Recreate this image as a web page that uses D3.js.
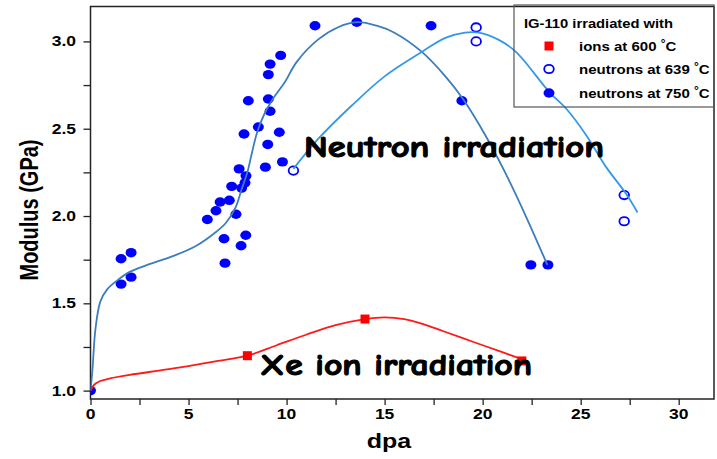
<!DOCTYPE html>
<html>
<head>
<meta charset="utf-8">
<script src="https://cdn.jsdelivr.net/npm/d3@7/dist/d3.min.js"></script>
<style>
  html, body { margin: 0; padding: 0; background: #fff; }
  svg { display: block; }
  text { font-family: Arial, "Liberation Sans", sans-serif; font-weight: bold; }
</style>
</head>
<body>
<svg id="chart" width="717" height="459"></svg>
<script>
// ---- data ----
const xTicks = [0, 5, 10, 15, 20, 25, 30];
const yTicks = [1.0, 1.5, 2.0, 2.5, 3.0];

const ionX = [0, 8, 14, 22];
const ionY = [1.0, 1.2, 1.41, 1.17];

const n639X = [10.35, 19.67, 19.67, 27.22, 27.22];
const n639Y = [2.26, 3.08, 3.00, 2.12, 1.97];

const n750X = [0, 1.56, 2.07, 1.56, 2.07, 5.96, 6.40, 6.61, 7.08, 6.81, 6.86, 7.42, 7.20, 7.71, 7.88, 7.93, 7.58, 7.92, 7.68, 7.83, 8.56, 8.05, 8.92, 9.04, 9.16, 9.07, 9.63, 9.79, 9.70, 9.16, 9.07, 11.45, 13.58, 17.37, 18.94, 22.46, 23.33];
const n750Y = [1.0, 1.755, 1.79, 1.61, 1.65, 1.98, 2.03, 2.08, 2.09, 1.87, 1.73, 2.01, 2.17, 2.16, 2.19, 2.23, 2.27, 1.89, 1.83, 2.47, 2.51, 2.66, 2.28, 2.41, 2.60, 2.67, 2.48, 2.31, 2.92, 2.87, 2.81, 3.09, 3.11, 3.09, 2.66, 1.72, 1.72];

// fitted curves
const ionFitX = [0, 0.2, 0.5, 1, 2, 3.5, 5, 6.5, 8, 9.5, 11, 12.5, 14, 15, 16, 17, 18, 19.5, 21, 22.25];
const ionFitY = [1.0, 1.035, 1.055, 1.07, 1.09, 1.115, 1.14, 1.17, 1.2, 1.26, 1.32, 1.375, 1.41, 1.42, 1.41, 1.38, 1.34, 1.28, 1.22, 1.17];

const n750FitX = [0, 0.1, 0.25, 0.5, 0.85, 1.35, 2.0, 2.9, 4.2, 5.4, 6.3, 6.9, 7.4, 7.7, 8.0, 8.25, 8.5, 8.85, 9.3, 9.93, 10.5, 11.6, 12.6, 13.6, 14.6, 15.5, 16.9, 18.1, 19.0, 20.1, 21.1, 22.2, 23.3];
const n750FitY = [1.0, 1.12, 1.35, 1.51, 1.58, 1.63, 1.68, 1.72, 1.77, 1.83, 1.90, 1.96, 2.05, 2.15, 2.25, 2.37, 2.48, 2.58, 2.67, 2.77, 2.88, 3.01, 3.08, 3.11, 3.09, 3.05, 2.94, 2.80, 2.67, 2.47, 2.26, 2.0, 1.72];

const n639FitX = [10.35, 11.6, 13.3, 15.0, 16.9, 18.1, 19.1, 19.8, 20.8, 21.7, 23.4, 24.3, 25.3, 26.3, 27.3, 27.9];
const n639FitY = [2.27, 2.44, 2.63, 2.80, 2.94, 3.02, 3.05, 3.05, 3.01, 2.94, 2.71, 2.61, 2.46, 2.28, 2.13, 2.02];

const legendTitle = "IG-110 irradiated with";
const legendLabels = ["ions at 600 ", "neutrons at 639 ", "neutrons at 750 "];
const annotations = ["Neutron irradiation", "Xe ion irradiation"];

// ---- layout ----
const svg = d3.select("#chart");
const L = 90.5, R = 714, T = 6.5, B = 399;
const x = d3.scaleLinear().domain([0, 31.8]).range([L, R]);
const y = d3.scaleLinear().domain([0.952, 3.2]).range([B, T]);
const SX = 1.25; // horizontal stretch of the reference text

function stretchedText(g, px, py, str, opts) {
  const t = g.append("text")
    .attr("transform", `translate(${px},${py}) scale(${opts.sx || SX},1)`)
    .attr("font-size", opts.size)
    .attr("text-anchor", opts.anchor || "start")
    .attr("fill", opts.fill || "#000");
  t.text(str);
  return t;
}

svg.append("defs").append("clipPath").attr("id", "clip")
  .append("rect").attr("x", L).attr("y", T).attr("width", R - L).attr("height", B - T);

// axes
const xAxis = d3.axisBottom(x).tickValues(d3.range(0, 31, 2.5)).tickSize(6).tickFormat("");
const yAxis = d3.axisLeft(y).tickValues(d3.range(1.0, 3.2, 0.25)).tickSize(7).tickFormat("");
const gx = svg.append("g").attr("transform", `translate(0,${B})`).call(xAxis);
const gy = svg.append("g").attr("transform", `translate(${L},0)`).call(yAxis);
[gx, gy].forEach(g => {
  g.select(".domain").remove();
  g.selectAll("line").attr("stroke", "#222").attr("stroke-width", 1.3);
});

// frame
svg.append("rect").attr("x", L).attr("y", T).attr("width", R - L).attr("height", B - T)
  .attr("fill", "none").attr("stroke", "#222").attr("stroke-width", 1.5);

// tick labels
const tl = svg.append("g");
xTicks.forEach(v => stretchedText(tl, x(v), 419, String(v), {size: 14, anchor: "middle"}));
yTicks.forEach(v => stretchedText(tl, 76, y(v) + 5, v.toFixed(1), {size: 14, anchor: "end"}));

// axis titles
stretchedText(svg, 389, 448, "dpa", {size: 20, anchor: "middle"});
svg.append("text")
  .attr("transform", `translate(38,${210}) rotate(-90) scale(1,${SX})`)
  .attr("font-size", 20).attr("text-anchor", "middle").text("Modulus (GPa)");

// plot
const plot = svg.append("g").attr("clip-path", "url(#clip)");

// filled 750 °C points
plot.selectAll("ellipse.n750").data(n750X.map((v, i) => [v, n750Y[i]])).join("ellipse")
  .attr("class", "n750").attr("cx", d => x(d[0])).attr("cy", d => y(d[1]))
  .attr("rx", 5.5).attr("ry", 4.7).attr("fill", "#0000ff");

// open 639 °C points
plot.selectAll("ellipse.n639").data(n639X.map((v, i) => [v, n639Y[i]])).join("ellipse")
  .attr("class", "n639").attr("cx", d => x(d[0])).attr("cy", d => y(d[1]))
  .attr("rx", 4.8).attr("ry", 4.2).attr("fill", "none").attr("stroke", "#0000ff").attr("stroke-width", 1.8);

// fit lines
const lineY = d3.line().x(d => x(d[0])).y(d => y(d[1])).curve(d3.curveCatmullRom.alpha(0.5));
plot.append("path").datum(n750FitX.map((v, i) => [v, n750FitY[i]]))
  .attr("d", lineY).attr("fill", "none").attr("stroke", "#3b7dbd").attr("stroke-width", 1.8);
plot.append("path").datum(n639FitX.map((v, i) => [v, n639FitY[i]]))
  .attr("d", lineY).attr("fill", "none").attr("stroke", "#3399e8").attr("stroke-width", 1.8);
plot.append("path").datum(ionFitX.map((v, i) => [v, ionFitY[i]]))
  .attr("d", lineY).attr("fill", "none").attr("stroke", "#ff1a1a").attr("stroke-width", 1.8);

// ion squares
plot.selectAll("rect.ion").data(ionX.map((v, i) => [v, ionY[i]]).slice(1)).join("rect")
  .attr("class", "ion").attr("x", d => x(d[0]) - 4.5).attr("y", d => y(d[1]) - 4.5)
  .attr("width", 9).attr("height", 9).attr("fill", "#ff0000");

// annotations
const comic = "'Comic Sans MS', 'Comic Neue', 'DejaVu Sans', sans-serif";
svg.append("text").attr("x", 304).attr("y", 157).attr("font-size", 30)
  .attr("textLength", 300).attr("lengthAdjust", "spacingAndGlyphs")
  .attr("stroke", "#000").attr("stroke-width", 1.1)
  .style("font-family", comic).text(annotations[0]);
svg.append("text").attr("x", 260).attr("y", 375).attr("font-size", 30)
  .attr("textLength", 272).attr("lengthAdjust", "spacingAndGlyphs")
  .attr("stroke", "#000").attr("stroke-width", 1.1)
  .style("font-family", comic).text(annotations[1]);

// legend
const lg = svg.append("g");
lg.append("rect").attr("x", 514).attr("y", 5).attr("width", 200).attr("height", 102)
  .attr("fill", "none").attr("stroke", "#555").attr("stroke-width", 1.2);
stretchedText(lg, 524, 28, legendTitle, {size: 12.5, sx: 1.18});
const legY = [46, 69, 93];
lg.append("rect").attr("x", 549 - 4.5).attr("y", legY[0] - 4.5).attr("width", 9).attr("height", 9).attr("fill", "#ff0000");
lg.append("ellipse").attr("cx", 549).attr("cy", legY[1]).attr("rx", 4.8).attr("ry", 4.2)
  .attr("fill", "none").attr("stroke", "#0000ff").attr("stroke-width", 1.8);
lg.append("ellipse").attr("cx", 549).attr("cy", legY[2]).attr("rx", 5.5).attr("ry", 4.7).attr("fill", "#0000ff");
legendLabels.forEach((s, i) => {
  const t = lg.append("text")
    .attr("transform", `translate(579,${legY[i] + 5}) scale(1.2,1)`)
    .attr("font-size", 12.5);
  t.append("tspan").text(s);
  t.append("tspan").attr("font-size", 10).attr("dy", -4).text("°");
  t.append("tspan").attr("dy", 4).text("C");
});
</script>
</body>
</html>
